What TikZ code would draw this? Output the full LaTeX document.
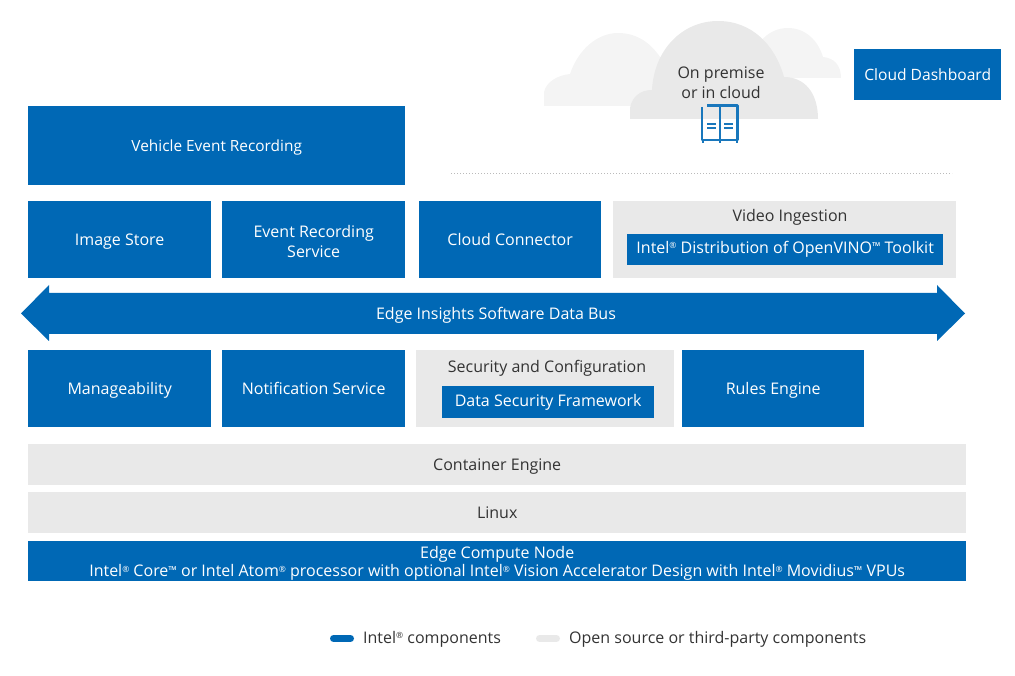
\documentclass[tikz,border=0pt]{standalone}
\usepackage{fontspec}
\setmainfont{Open Sans}
\definecolor{intelblue}{HTML}{0068B5}
\definecolor{opengray}{HTML}{E9E9E9}
\definecolor{cloudgray}{HTML}{F4F4F4}
\definecolor{labelgray}{HTML}{333333}
\newcommand{\reg}{\raisebox{.55ex}{\fontsize{8.5}{8.5}\selectfont ®}}
\newcommand{\tm}{\raisebox{.3ex}{\fontsize{11}{11}\selectfont ™}}
\newcommand{\boxstrut}{\rule[-4.1pt]{0pt}{19.5pt}}
\tikzset{
  boxtext/.style={align=center,inner sep=0pt,font=\fontsize{16}{20}\selectfont,
    execute at begin node=\boxstrut,execute at end node=\boxstrut},
  bluebox/.style={boxtext,fill=intelblue,text=white,anchor=north west},
  graybox/.style={boxtext,fill=opengray,text=labelgray,anchor=north west},
  caption/.style={boxtext,text=labelgray},
  boxsize/.style 2 args={minimum width=#1pt,minimum height=#2pt},
  pill/.style={line width=7pt,line cap=round}
}
\begin{document}
\begin{tikzpicture}[x=1pt,y=-1pt]
\useasboundingbox (0,0) rectangle (1015,676);

% clouds
\fill[cloudgray] (544,106) -- (544,92) .. controls (546,82) and (558,75) .. (570,74)
  .. controls (578,50) and (597,33) .. (618,33) .. controls (638,33) and (652,44) .. (662,60)
  -- (662,106) -- cycle;
\fill[cloudgray] (760,78) -- (760,42) .. controls (768,32) and (778,28) .. (788,28)
  .. controls (805,28) and (818,40) .. (823,57) .. controls (834,58) and (841,65) .. (841,78) -- cycle;
\fill[opengray] (630,119) -- (630,108) .. controls (632,97) and (640,90) .. (652,90)
  .. controls (654,50) and (682,21) .. (718,21) .. controls (752,21) and (775,45) .. (784,77)
  .. controls (804,77) and (818,92) .. (818,119) -- cycle;

% servers
\begin{scope}[intelblue!90!white,line width=2.8pt,line join=round]
\draw (702,107) -- (702,140) -- (720,140) -- (720,105.5) -- (707,105.5);
\draw (720,105.5) -- (737.5,105.5) -- (737.5,140) -- (720,140);
\foreach \x in {703,720,737} \draw (\x,140) -- (\x,143.5);
\draw[line width=1.3pt] (707,124) -- (716,124) (707,128) -- (716,128);
\draw[line width=1.3pt] (724,124) -- (733,124) (724,128) -- (733,128);
\end{scope}
\node[caption] (cloudtext) at (721,85) {On premise\\or in cloud};

\node[bluebox,boxsize={147}{51},font=\fontsize{15.6}{20}\selectfont] (dashboard) at (854,49) {Cloud Dashboard};
\draw[dotted,line width=1pt,opengray!80!black] (451,174) -- (952,174);

% top row
\node[bluebox,boxsize={377}{79},font=\fontsize{15.4}{20}\selectfont] (recording) at (28,106) {Vehicle Event Recording};
\node[bluebox,boxsize={183}{77}] (imagestore) at (28,201) {Image Store};
\node[bluebox,boxsize={183}{77}] (eventservice) at (222,201) {\rule{0pt}{19.5pt}Event Recording\\Service};
\node[bluebox,boxsize={182}{77}] (connector) at (419,201) {Cloud Connector};
\node[graybox,boxsize={343}{77}] (ingestion) at (613,201) {};
\node[caption] (ingestiontext) at (790,216) {Video Ingestion};
\node[bluebox,boxsize={316}{31}] (openvino) at (627,234) {\rule[-8pt]{0pt}{0pt}Intel\reg{} Distribution of OpenVINO\tm{} Toolkit};

% data bus
\fill[intelblue] (21,313.5) -- (49,285) -- (49,293) -- (937,293) -- (937,285) -- (965,313.5)
  -- (937,341) -- (937,334) -- (49,334) -- (49,341) -- cycle;
\node[caption,text=white] (databus) at (496,313.5) {Edge Insights Software Data Bus};

% lower row
\node[bluebox,boxsize={183}{77}] (manage) at (28,350) {Manageability};
\node[bluebox,boxsize={183}{77}] (notify) at (222,350) {Notification Service};
\node[graybox,boxsize={258}{77}] (security) at (416,350) {};
\node[caption] (securitytext) at (547,367) {Security and Configuration};
\node[bluebox,boxsize={212}{32}] (framework) at (442,386) {\rule[-6pt]{0pt}{0pt}Data Security Framework};
\node[bluebox,boxsize={182}{77}] (rules) at (682,350) {Rules Engine};

% stack
\node[graybox,boxsize={938}{41}] (container) at (28,444) {Container Engine};
\node[graybox,boxsize={938}{41}] (linux) at (28,492) {Linux};
\node[bluebox,boxsize={938}{40}] (compute) at (28,541) {\rule{0pt}{17.5pt}Edge Compute Node\\[-2pt]
  Intel\reg{} Core\tm{} or Intel Atom\reg{} processor with optional Intel\reg{} Vision Accelerator Design with Intel\reg{} Movidius\tm{} VPUs};

% legend
\draw[pill,intelblue] (333.5,638.5) -- (350.5,638.5);
\node[caption,anchor=west] (legendintel) at (363,638) {Intel\reg{} components};
\draw[pill,opengray] (539.5,638.5) -- (556.5,638.5);
\node[caption,anchor=west] (legendopen) at (569,638) {Open source or third-party components};
\end{tikzpicture}
\end{document}
